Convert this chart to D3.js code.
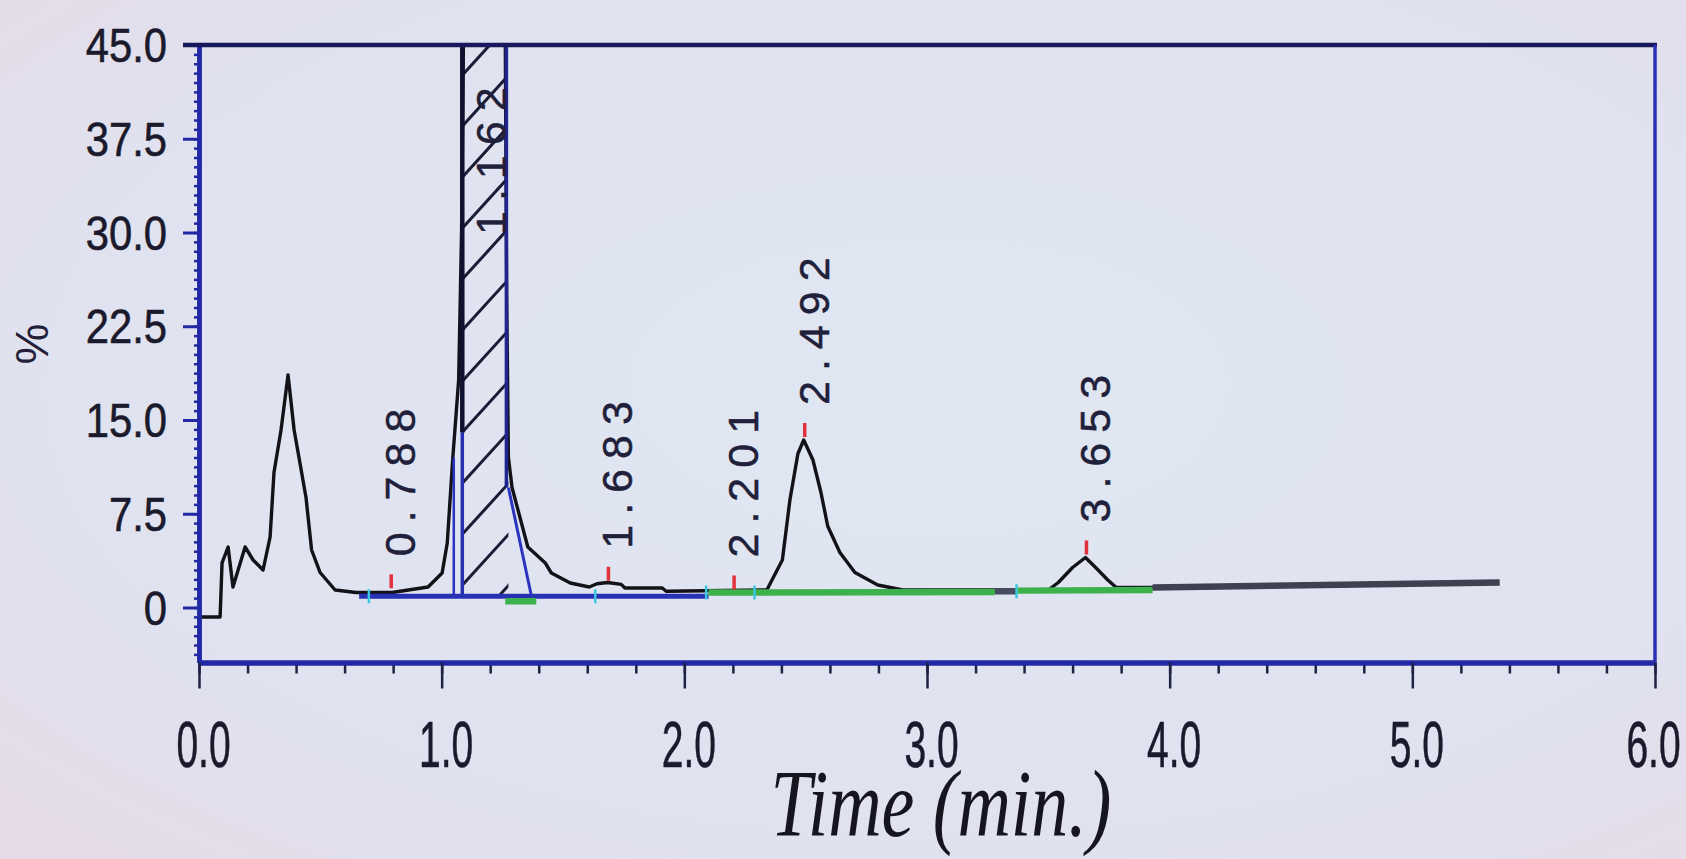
<!DOCTYPE html>
<html><head><meta charset="utf-8">
<script src="https://cdn.jsdelivr.net/npm/d3@7"></script>
<style>html,body{margin:0;padding:0;background:#e0e2ee;overflow:hidden}</style>
</head><body><svg id="c" width="1686" height="859"></svg>
<script>
// ---------------- data ----------------
const traceTime  = [0.000,0.087,0.095,0.120,0.140,0.190,0.223,0.264,0.293,0.309,0.338,0.367,0.392,0.412,0.441,0.464,0.499,0.561,0.647,0.796,0.944,1.002,1.023,1.046,1.070,1.082,1.090,1.120,1.170,1.230,1.262,1.268,1.275,1.290,1.355,1.427,1.452,1.530,1.608,1.640,1.683,1.740,1.755,1.909,1.925,2.340,2.404,2.435,2.468,2.492,2.530,2.563,2.591,2.641,2.703,2.797,2.900,3.500,3.541,3.600,3.653,3.700,3.745,3.780,3.950];
const traceValue = [-0.76,-0.76,3.57,4.84,1.64,4.84,3.80,3.00,5.64,10.8,14.2,18.6,14.2,12.0,8.8,4.6,2.8,1.4,1.2,1.2,1.64,2.76,5.16,12.0,18.2,30,46,62,68,62,46,25,12,9.6,4.84,3.56,2.76,1.96,1.64,1.90,2.0,1.85,1.56,1.56,1.3,1.4,3.8,8.6,12.3,13.4,11.8,9.2,6.5,4.4,2.8,1.8,1.4,1.4,2.0,3.2,4.0,3.1,2.2,1.6,1.6];

const peakTimes  = [0.788, 1.162, 1.683, 2.201, 2.492, 3.653];
const peakLabels = ["0.788", "1.162", "1.683", "2.201", "2.492", "3.653"];
const peakApex   = [1.3, 27, 1.9, 1.2, 13.4, 4.0];

const hatchedPeak = [1.085, 1.275];       // start / end time of the integrated (hatched) peak
const dropTimes   = [1.050];
const dropValues  = [12.0];
const skimTime    = [1.275, 1.370];
const skimValue   = [9.6, 0.9];

const baseStart = [0.66, 1.262, 2.10, 3.28, 3.37, 3.93];
const baseEnd   = [2.10, 1.390, 3.28, 3.37, 3.93, 5.36];
const baseV0    = [0.9, 0.5, 1.2, 1.3, 1.35, 1.6];
const baseV1    = [0.9, 0.5, 1.25, 1.3, 1.4, 2.0];
const baseKind  = ["blue", "green", "green", "dark", "green", "gray"];
const markTimes = [0.70, 1.633, 2.09, 2.289, 3.369];
const markValues = [0.9, 0.9, 1.2, 1.2, 1.3];

const xTicks = [0, 1, 2, 3, 4, 5, 6];
const xTickLabels = ["0.0", "1.0", "2.0", "3.0", "4.0", "5.0", "6.0"];
const yTicks = [0, 7.5, 15, 22.5, 30, 37.5, 45];
const yTickLabels = ["0", "7.5", "15.0", "22.5", "30.0", "37.5", "45.0"];
const xTitle = "Time (min.)";
const yTitle = "%";

// ---------------- layout ----------------
const W = 1686, H = 859;
const L = 199, R = 1655, T = 45, B = 662.5;
const x = d3.scaleLinear().domain([0, 6]).range([L, R]);
const y = d3.scaleLinear().domain([-4.4, 45]).range([B, T]);

const svg = d3.select("#c");
const defs = svg.append("defs");
const grad = defs.append("radialGradient").attr("id", "bg").attr("cx", "55%").attr("cy", "45%").attr("r", "75%");
grad.append("stop").attr("offset", "0%").attr("stop-color", "#dfe7f2");
grad.append("stop").attr("offset", "70%").attr("stop-color", "#e0e2ef");
grad.append("stop").attr("offset", "100%").attr("stop-color", "#e6dbe8");
svg.append("rect").attr("width", W).attr("height", H).attr("fill", "url(#bg)");

defs.append("clipPath").attr("id", "plot").append("rect")
  .attr("x", L).attr("y", T).attr("width", R - L).attr("height", B - T);

const trace = traceTime.map((t, i) => ({ t, v: traceValue[i] }));

// hatched area clip
const hs = hatchedPeak[0], he = hatchedPeak[1];
function interp(t) {
  for (let i = 1; i < trace.length; i++) {
    if (trace[i].t >= t) {
      const a = trace[i - 1], b = trace[i];
      return a.v + (b.v - a.v) * (t - a.t) / (b.t - a.t);
    }
  }
  return trace[trace.length - 1].v;
}
const hatchPts = [{ t: hs, v: interp(hs) }]
  .concat(trace.filter(d => d.t > hs && d.t < he))
  .concat([{ t: he, v: interp(he) }]);
const areaGen = d3.area().x(d => x(d.t)).y0(y(0.9)).y1(d => y(d.v));
defs.append("clipPath").attr("id", "hatch").append("path").attr("d", areaGen(hatchPts));

const plot = svg.append("g").attr("clip-path", "url(#plot)");

// hatch lines
const hg = plot.append("g").attr("clip-path", "url(#hatch)");
const hx0 = x(hs) - 10, hx1 = x(he) + 10, slope = 1.1;
for (let k = -4; k < 16; k++) {
  const yy = y(0.9) - k * 51;
  hg.append("line").attr("x1", hx0).attr("y1", yy).attr("x2", hx1).attr("y2", yy - (hx1 - hx0) * slope)
    .attr("stroke", "#1a1c36").attr("stroke-width", 3);
}

// trace
const lineGen = d3.line().x(d => x(d.t)).y(d => y(d.v));
plot.append("path").attr("d", lineGen(trace)).attr("fill", "none")
  .attr("stroke", "#121218").attr("stroke-width", 3.4).attr("stroke-linejoin", "round");

// peak boundary lines
plot.append("line").attr("x1", x(hs)).attr("x2", x(hs)).attr("y1", T).attr("y2", y(14))
  .attr("stroke", "#101030").attr("stroke-width", 4.5);
plot.append("line").attr("x1", x(hs)).attr("x2", x(hs)).attr("y1", y(14)).attr("y2", y(0.9))
  .attr("stroke", "#2630b0").attr("stroke-width", 3.5);
plot.append("line").attr("x1", x(he) - 2).attr("x2", x(he) - 2).attr("y1", T).attr("y2", y(skimValue[0]))
  .attr("stroke", "#1e2490").attr("stroke-width", 3.5);
dropTimes.forEach((t, i) => {
  plot.append("line").attr("x1", x(t)).attr("x2", x(t)).attr("y1", y(dropValues[i])).attr("y2", y(0.9))
    .attr("stroke", "#2a34c0").attr("stroke-width", 2.5);
});
plot.append("line").attr("x1", x(skimTime[0])).attr("y1", y(skimValue[0]))
  .attr("x2", x(skimTime[1])).attr("y2", y(skimValue[1]))
  .attr("stroke", "#2a34c0").attr("stroke-width", 3);

// baselines
const baseColor = { blue: "#2731b4", green: "#3db24c", dark: "#464b5e", gray: "#3e4150" };
baseStart.forEach((s, i) => {
  plot.append("line").attr("x1", x(s)).attr("y1", y(baseV0[i])).attr("x2", x(baseEnd[i])).attr("y2", y(baseV1[i]))
    .attr("stroke", baseColor[baseKind[i]]).attr("stroke-width", baseKind[i] === "blue" ? 5 : 6.5);
});
markTimes.forEach((t, i) => {
  plot.append("line").attr("x1", x(t)).attr("x2", x(t)).attr("y1", y(markValues[i]) - 7).attr("y2", y(markValues[i]) + 7)
    .attr("stroke", "#3cc6e0").attr("stroke-width", 2.5);
});

// apex markers + labels
peakTimes.forEach((t, i) => {
  const ya = y(Math.min(peakApex[i], 27));
  if (peakApex[i] < 27) {
    plot.append("line").attr("x1", x(t) + 1).attr("x2", x(t) + 1).attr("y1", ya - 17).attr("y2", ya - 3)
      .attr("stroke", "#e0323c").attr("stroke-width", 3.5);
  }
  plot.append("text")
    .attr("transform", `translate(${x(t) + 10},${ya - 35}) rotate(-90)`)
    .attr("dominant-baseline", "central")
    .attr("font-family", "Liberation Sans, Arial, sans-serif")
    .attr("font-size", 43).attr("letter-spacing", 10)
    .attr("fill", "#20203a").attr("stroke", "#20203a").attr("stroke-width", 0.5)
    .text(peakLabels[i]);
});

// ---------------- axes ----------------
const axisColor = "#2329a6";
function styleAxis(g, w) {
  g.selectAll("path").attr("stroke", axisColor).attr("stroke-width", w);
  g.selectAll("line").attr("stroke", axisColor).attr("stroke-width", 3);
}
// left minor
const yMinor = d3.range(-60, 61).map(k => k * 0.75).filter(v => v >= -4.4 && v <= 45);
const gyMinor = svg.append("g").attr("transform", `translate(${L},0)`)
  .call(d3.axisLeft(y).tickValues(yMinor).tickSize(5).tickSizeOuter(0).tickFormat(""));
styleAxis(gyMinor, 4.5);
gyMinor.selectAll("line").attr("stroke-width", 2.5);
// left major
const gy = svg.append("g").attr("transform", `translate(${L},0)`)
  .call(d3.axisLeft(y).tickValues(yTicks).tickSize(16).tickSizeOuter(0).tickFormat((d, i) => yTickLabels[i]));
styleAxis(gy, 4.5);
gy.selectAll("text")
  .attr("x", 0).attr("y", 0).attr("dy", 0)
  .attr("transform", "translate(-32,0) scale(0.87,1)")
  .attr("dominant-baseline", "central")
  .attr("font-family", "Liberation Sans, Arial, sans-serif")
  .attr("font-size", 48).attr("fill", "#1b1a2c")
  .attr("stroke", "#1b1a2c").attr("stroke-width", 0.6);

// bottom minor
const xMinor = d3.range(0, 31).map(k => k * 0.2);
const gxMinor = svg.append("g").attr("transform", `translate(0,${B})`)
  .call(d3.axisBottom(x).tickValues(xMinor).tickSize(11).tickSizeOuter(0).tickFormat(""));
styleAxis(gxMinor, 5);
gxMinor.selectAll("line").attr("stroke-width", 2.5).attr("stroke", "#1e2244");
// bottom major
const gx = svg.append("g").attr("transform", `translate(0,${B})`)
  .call(d3.axisBottom(x).tickValues(xTicks).tickSize(26).tickSizeOuter(0).tickFormat((d, i) => xTickLabels[i]));
styleAxis(gx, 5);
gx.selectAll("line").attr("stroke", "#1e2244").attr("stroke-width", 2.5);
gx.selectAll("text")
  .attr("x", 0).attr("y", 0).attr("dy", 0)
  .attr("transform", (d, i) => `translate(${i === xTicks.length - 1 ? -2 : 4},104) scale(0.6,1)`)
  .attr("font-family", "Liberation Sans, Arial, sans-serif")
  .attr("font-size", 65).attr("fill", "#1b1a2c")
  .attr("stroke", "#1b1a2c").attr("stroke-width", 0.6);

// frame top and right
svg.append("line").attr("x1", 183).attr("x2", R + 2).attr("y1", T).attr("y2", T)
  .attr("stroke", "#17195c").attr("stroke-width", 4.5);
svg.append("line").attr("x1", R).attr("x2", R).attr("y1", T).attr("y2", B)
  .attr("stroke", "#2a30b4").attr("stroke-width", 3.5);

// titles
svg.append("text")
  .attr("transform", `translate(941,836) scale(0.77,1)`)
  .attr("text-anchor", "middle")
  .attr("font-family", "Liberation Serif, Times New Roman, serif")
  .attr("font-style", "italic").attr("font-size", 96).attr("fill", "#15141f")
  .text(xTitle);
svg.append("text")
  .attr("transform", `translate(32,344) rotate(-90)`)
  .attr("text-anchor", "middle").attr("dominant-baseline", "central")
  .attr("font-family", "Liberation Sans, Arial, sans-serif")
  .attr("font-size", 46).attr("fill", "#241f38")
  .text(yTitle);
</script>
</body></html>
